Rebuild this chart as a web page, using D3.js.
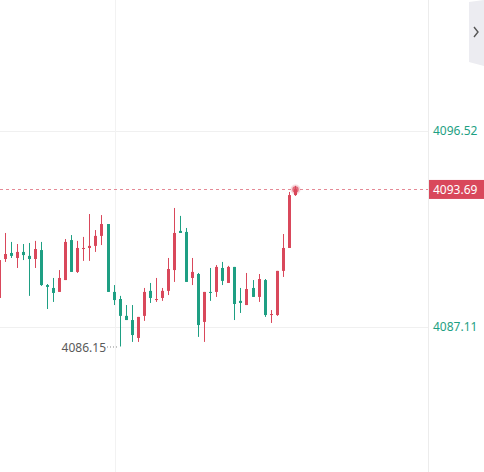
<!DOCTYPE html>
<html>
<head>
<meta charset="utf-8">
<script src="https://cdn.jsdelivr.net/npm/d3@7"></script>
<style>
body{margin:0;background:#fff;overflow:hidden}
text{font-family:"Noto Sans",sans-serif}
</style>
</head>
<body>
<script>
var width = 484, height = 472;

// candle data: open, high, low, close
var opens  = [4088.48,4090.35,4090.64,4090.40,4090.69,4090.50,4090.35,4090.78,4089.10,4088.96,
              4088.77,4089.34,4091.26,4089.73,4090.83,4090.88,4090.98,4091.46,4092.03,4088.77,
              4088.43,4087.62,4087.42,4086.56,4087.62,4088.82,4088.38,4088.48,4088.82,4089.82,
              4091.70,4091.65,4089.44,4089.63,4087.33,4088.77,4088.77,4089.92,4089.20,4089.97,
              4088.34,4088.14,4088.96,4088.53,4089.34,4087.66,4087.66,4089.78,4090.88,4093.42]
var highs  = [4090.45,4091.60,4091.17,4091.07,4091.07,4091.12,4091.22,4091.17,4089.15,4089.44,
              4089.82,4091.31,4091.50,4091.22,4091.41,4092.51,4091.74,4092.46,4092.03,4089.10,
              4088.58,4088.14,4088.14,4087.57,4088.96,4089.20,4089.44,4088.96,4090.40,4092.80,
              4092.42,4091.84,4090.40,4089.68,4088.77,4089.92,4090.06,4090.21,4090.02,4089.97,
              4088.96,4089.68,4089.34,4089.63,4089.39,4087.90,4089.78,4091.55,4093.57,4093.86]
var lows   = [4088.19,4090.21,4090.40,4089.92,4090.30,4088.58,4089.92,4089.06,4087.95,4088.29,
              4088.77,4089.34,4089.73,4089.68,4090.26,4090.26,4090.69,4091.02,4088.77,4088.14,
              4086.15,4087.42,4086.37,4086.37,4087.38,4088.24,4088.29,4088.34,4088.62,4089.25,
              4091.60,4089.25,4089.10,4086.61,4086.37,4088.34,4088.53,4089.10,4089.20,4087.42,
              4087.76,4088.14,4088.53,4088.29,4087.57,4087.28,4087.62,4089.49,4090.88,4093.38]
var closes = [4090.30,4090.59,4090.50,4090.69,4090.54,4090.35,4090.83,4089.10,4089.01,4088.72,
              4089.44,4091.17,4089.73,4090.88,4090.88,4090.98,4091.46,4092.03,4088.77,4088.38,
              4087.62,4087.42,4086.70,4087.57,4088.77,4088.48,4088.43,4088.82,4089.87,4091.60,
              4091.60,4089.25,4089.73,4087.18,4088.77,4088.72,4089.97,4089.30,4089.97,4088.19,
              4088.24,4088.91,4088.53,4089.39,4087.66,4087.71,4089.78,4090.88,4093.42,4093.69]

var axisTicks = [4096.52, 4087.11]
var lastPrice = 4093.69
var lowLabel = "4086.15"

var red = "#d9485b", green = "#1e9f83"
var plotRight = 428

var candles = opens.map(function(o, i){
    return {i: i, o: o, h: highs[i], l: lows[i], c: closes[i]}
})

var svg = d3.select("body").append("svg").attr("width", width).attr("height", height)

var x = d3.scaleBand().domain(candles.map(function(d){ return d.i }))
    .range([-2.7, -2.7 + 5.98 * candles.length]).paddingInner(0.5)
var y = d3.scaleLinear().domain([axisTicks[1], axisTicks[0]]).range([326.5, 130.5])

// grid
svg.selectAll(".hgrid").data(axisTicks).enter().append("line")
    .attr("x1", 0).attr("x2", plotRight)
    .attr("y1", function(d){ return Math.round(y(d)) + 0.5 })
    .attr("y2", function(d){ return Math.round(y(d)) + 0.5 })
    .attr("stroke", "#f0f0f0")
svg.append("line").attr("x1", 115.5).attr("x2", 115.5).attr("y1", 0).attr("y2", height).attr("stroke", "#f2f2f2")
svg.append("line").attr("x1", plotRight + 0.5).attr("x2", plotRight + 0.5).attr("y1", 0).attr("y2", height).attr("stroke", "#ececec")

// last price dashed line
svg.append("line").attr("x1", 0).attr("x2", plotRight)
    .attr("y1", Math.round(y(lastPrice)) + 0.5).attr("y2", Math.round(y(lastPrice)) + 0.5)
    .attr("stroke", "#e58a96").attr("stroke-dasharray", "3,3")

var g = svg.selectAll(".candle").data(candles).enter().append("g").attr("class", "candle")
g.append("line")
    .attr("x1", function(d){ return Math.round(x(d.i) + x.bandwidth() / 2) + 0.5 })
    .attr("x2", function(d){ return Math.round(x(d.i) + x.bandwidth() / 2) + 0.5 })
    .attr("y1", function(d){ return y(d.h) }).attr("y2", function(d){ return y(d.l) })
    .attr("stroke", function(d){ return d.c >= d.o ? red : green })
g.append("rect")
    .attr("x", function(d){ return Math.round(x(d.i) + x.bandwidth() / 2) - 1 })
    .attr("width", 3)
    .attr("y", function(d){ return y(Math.max(d.o, d.c)) })
    .attr("height", function(d){ return Math.max(1, Math.abs(y(d.o) - y(d.c))) })
    .attr("fill", function(d){ return d.c >= d.o ? red : green })

// pulsing dot on the last candle
var last = candles[candles.length - 1]
var lx = Math.round(x(last.i) + x.bandwidth() / 2) + 0.5
svg.append("circle").attr("cx", lx).attr("cy", y(lastPrice)).attr("r", 5).attr("fill", red).attr("opacity", 0.2)
svg.append("circle").attr("cx", lx).attr("cy", y(lastPrice)).attr("r", 3.2).attr("fill", red).attr("opacity", 0.75)

// low marker
var lowC = candles[d3.minIndex(lows)]
var lowX = Math.round(x(lowC.i) + x.bandwidth() / 2)
svg.append("line").attr("x1", 107).attr("x2", lowX - 1)
    .attr("y1", y(lowC.l) + 0.5).attr("y2", y(lowC.l) + 0.5)
    .attr("stroke", "#888").attr("stroke-dasharray", "1,2")
svg.append("text").attr("x", 106).attr("y", y(lowC.l) + 6).attr("text-anchor", "end")
    .attr("font-size", "12px").attr("fill", "#5a5a5a").text(lowLabel)

// price axis
var axis = svg.append("g").attr("transform", "translate(" + (plotRight + 5) + ",0)")
    .call(d3.axisRight(y).tickValues(axisTicks).tickSize(0).tickPadding(0).tickFormat(d3.format(".2f")))
axis.select(".domain").remove()
axis.selectAll("text").attr("font-size", "12px").attr("fill", green).attr("font-family", "Noto Sans, sans-serif")

svg.append("rect").attr("x", plotRight + 1).attr("y", y(lastPrice) - 9.5).attr("width", width - plotRight - 1).attr("height", 19)
    .attr("fill", red)
svg.append("text").attr("x", plotRight + 5).attr("y", y(lastPrice) + 4.5)
    .attr("font-size", "12px").attr("fill", "#fff").text(d3.format(".2f")(lastPrice))

// side panel toggle
svg.append("path").attr("d", "M469,2 L484,0 L484,66 L469,62 Z").attr("fill", "#ececf1")
svg.append("path").attr("d", "M474,27 L478,32 L474,37").attr("fill", "none").attr("stroke", "#555").attr("stroke-width", 1.4)
</script>
</body>
</html>
